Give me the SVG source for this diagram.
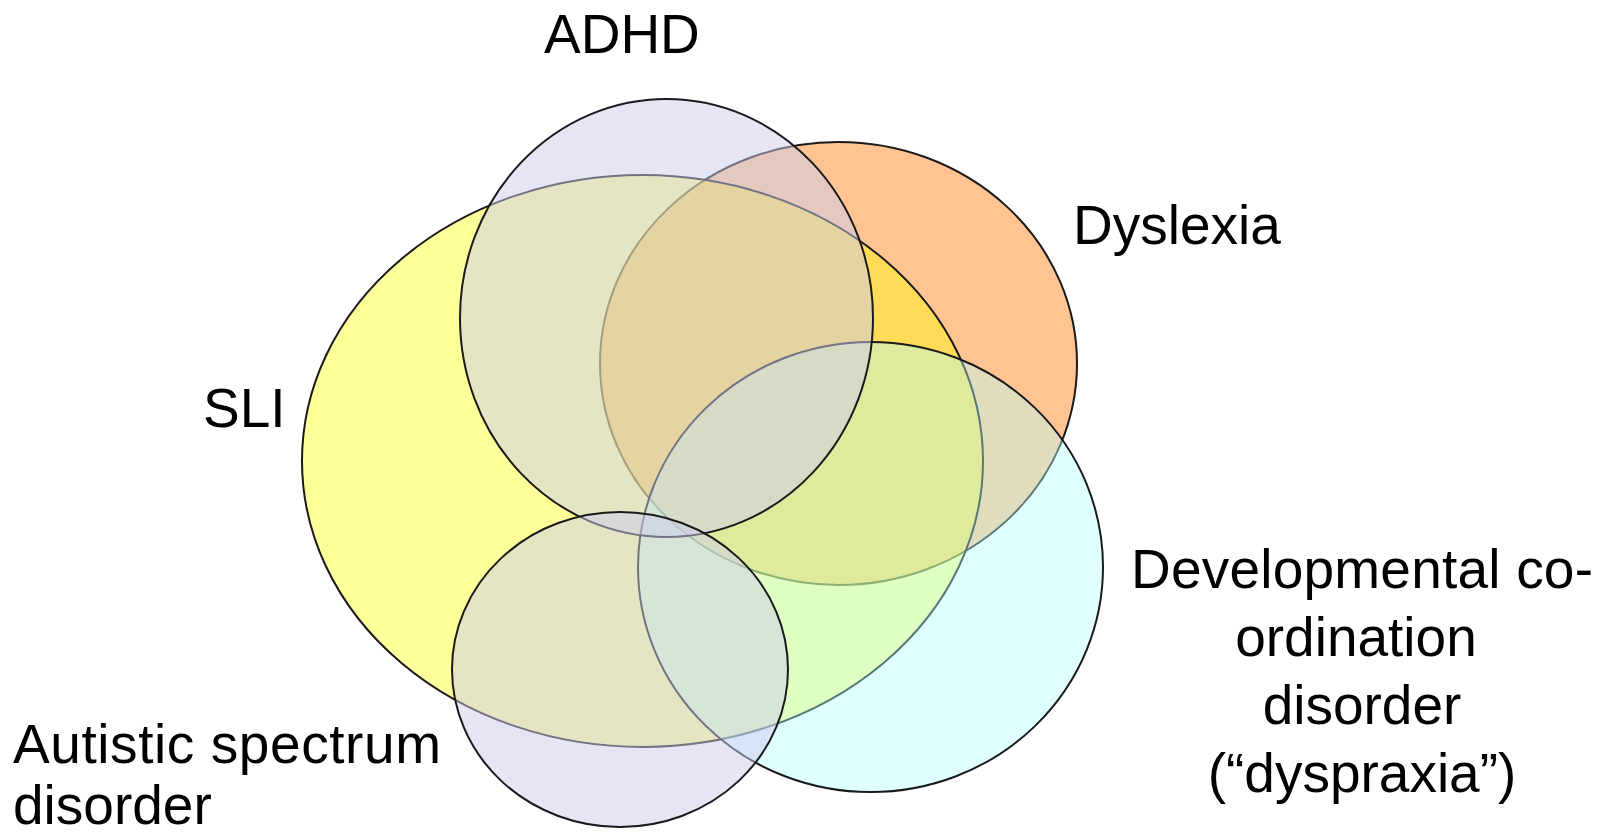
<svg xmlns="http://www.w3.org/2000/svg" width="1608" height="834" viewBox="0 0 1608 834">
<style>
.set{stroke:#1a1a1a;stroke-width:2}
.lbl{font-family:"Liberation Sans",Arial,sans-serif;font-size:55px;fill:#000}
.mid{text-anchor:middle}
</style>
<rect width="1608" height="834" fill="#ffffff"/>
<g id="dyslexia">
<ellipse class="set" cx="838.5" cy="363.5" rx="238.5" ry="221.5" fill="#FFC491"/>
<text class="lbl" x="1073" y="244">Dyslexia</text>
</g>
<g id="sli">
<ellipse class="set" cx="642.5" cy="461" rx="340.5" ry="286" fill="#FFFF00" fill-opacity="0.4"/>
<text class="lbl" x="203" y="427">SLI</text>
</g>
<g id="dyspraxia">
<ellipse class="set" cx="870.5" cy="567" rx="232.5" ry="225" fill="#B3FFFF" fill-opacity="0.41"/>
<text class="lbl mid" x="1362" y="588" textLength="462" lengthAdjust="spacing">Developmental co-</text>
<text class="lbl mid" x="1356" y="656">ordination</text>
<text class="lbl mid" x="1362" y="724">disorder</text>
<text class="lbl mid" x="1362" y="792">(“dyspraxia”)</text>
</g>
<g id="adhd">
<ellipse class="set" cx="666.5" cy="318" rx="206.5" ry="219" fill="#CCCCEE" fill-opacity="0.5"/>
<text class="lbl" x="544" y="53">ADHD</text>
</g>
<g id="autistic">
<ellipse class="set" cx="620" cy="669.5" rx="168" ry="157.5" fill="#CCCCEE" fill-opacity="0.5"/>
<text class="lbl" x="13" y="763" textLength="428" lengthAdjust="spacing">Autistic spectrum</text>
<text class="lbl" x="13" y="824">disorder</text>
</g>
</svg>
